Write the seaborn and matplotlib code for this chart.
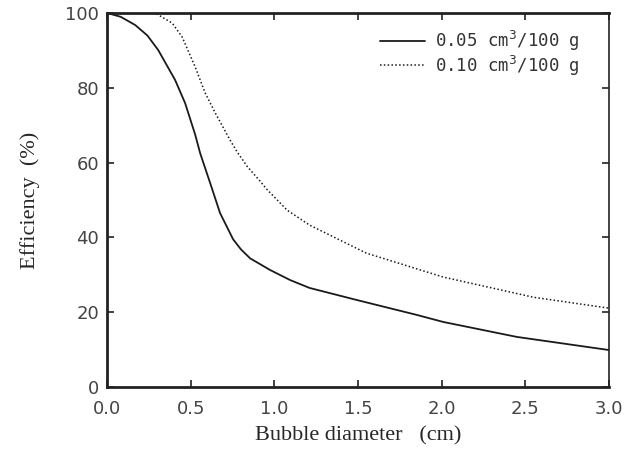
import numpy as np
import pandas as pd
import seaborn as sns
import matplotlib.pyplot as plt

# Efficiency vs bubble diameter
x_005 = [0, 0.08, 0.167, 0.24, 0.305, 0.406, 0.466, 0.526, 0.556, 0.616, 0.675, 0.753,
         0.8, 0.855, 0.974, 1.094, 1.21, 1.49, 1.85, 2.01, 2.45, 3.0]
eff_005 = [100, 99, 96.8, 94, 90.1, 82.1, 75.9, 67.5, 62.5, 54.5, 46.5, 39.5,
           36.8, 34.4, 31.3, 28.6, 26.5, 23.3, 19.3, 17.4, 13.4, 9.9]

x_010 = [0, 0.287, 0.389, 0.448, 0.526, 0.586, 0.646, 0.735, 0.775, 0.837, 0.915,
         0.956, 1.076, 1.21, 1.55, 2.01, 2.55, 3.0]
eff_010 = [100, 100, 97.3, 93.6, 85.6, 78.6, 73.3, 66, 63, 59, 55,
           52.8, 47.3, 43.3, 35.8, 29.4, 24, 21.1]

labels = ['0.05 cm$^3$/100 g', '0.10 cm$^3$/100 g']

sns.set_style('ticks')

fig = plt.figure(figsize=(6.27, 4.49), dpi=100)
ax = fig.add_axes([0.171, 0.138, 0.80, 0.833])

sns.lineplot(x=x_005, y=eff_005, ax=ax, color='#1a1a1a', lw=1.3,
             linestyle='-', label=labels[0])
sns.lineplot(x=x_010, y=eff_010, ax=ax, color='#1a1a1a', lw=1.1,
             linestyle=(0, (1, 1.5)), label=labels[1])

ax.set_xlim(0, 3.0)
ax.set_ylim(0, 100)
ax.set_xticks(np.arange(0, 3.01, 0.5))
ax.set_yticks([0, 20, 40, 60, 80, 100])
ax.set_xticklabels(['0.0', '0.5', '1.0', '1.5', '2.0', '2.5', '3.0'])

ax.tick_params(direction='in', length=5, width=1.2, top=True, right=True,
               labelsize=13, colors='#222222')
ax.tick_params(axis='x', pad=9)
ax.tick_params(axis='y', pad=6)
for lbl in ax.get_xticklabels() + ax.get_yticklabels():
    lbl.set_family('DejaVu Sans')
    lbl.set_color('#444444')

for side in ['left', 'bottom', 'top']:
    ax.spines[side].set_linewidth(2)
ax.spines['right'].set_linewidth(1.2)
for s in ax.spines.values():
    s.set_color('#222222')

ax.set_xlabel('Bubble diameter   (cm)', family='Liberation Serif', fontsize=16,
              labelpad=6)
ax.set_ylabel('Efficiency  (%)', family='Liberation Serif', fontsize=16,
              labelpad=18)

leg = ax.legend(loc='upper right', bbox_to_anchor=(0.956, 0.975), frameon=False,
                handlelength=2.6, handletextpad=0.6, labelspacing=0.0,
                borderaxespad=0, prop={'family': 'DejaVu Sans Mono', 'size': 12.5})
for t in leg.get_texts():
    t.set_color('#333333')

fig.savefig('out.png', dpi=100)
